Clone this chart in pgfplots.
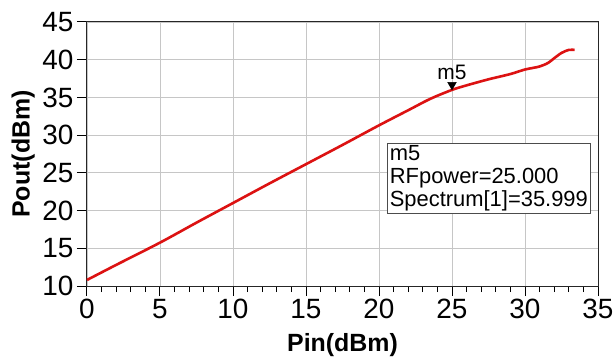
\documentclass[border=0pt]{standalone}
\usepackage{pgfplots}
\pgfplotsset{compat=1.18}
\usepackage{fontspec}
\setmainfont{Liberation Sans}
\definecolor{curvered}{RGB}{220,18,18}
\begin{document}
\begin{tikzpicture}
\begin{axis}[
  scale only axis,
  width=511bp, height=264bp,
  xmin=0, xmax=35, ymin=10, ymax=45,
  xtick={0,5,...,35}, ytick={10,15,...,45},
  minor x tick num=4,
  tick pos=left,
  tick align=outside,
  major tick length=10bp,
  minor tick length=6bp,
  grid=major,
  major grid style={gray!45, line width=0.9bp},
  axis line style={black!85, line width=1bp},
  every tick/.style={black, line width=1bp},
  tick label style={font=\fontsize{28}{30}\selectfont},
  /pgf/number format/assume math mode=true,
  xlabel={\textbf{Pin(dBm)}},
  ylabel={\textbf{Pout(dBm)}},
  label style={font=\fontsize{25}{28}\selectfont},
  xlabel style={at={(axis description cs:0.5,-0.18)}, anchor=north, inner sep=0pt},
  ylabel style={at={(axis description cs:-0.102,0.5)}, anchor=south, inner sep=0pt},
  clip=false,
]
\addplot[curvered, line width=2.6bp, smooth] coordinates {
(0,10.8) (2,12.8) (5,15.75) (7.5,18.4) (10,21.0) (12.5,23.6) (15,26.15)
(17.5,28.7) (20,31.3) (22,33.3) (23.5,34.8) (25,36.0) (26,36.6)
(27.5,37.4) (29,38.1) (30,38.7) (31,39.1) (31.6,39.6) (32,40.2)
(32.5,40.9) (33,41.3) (33.4,41.3)
};
\addplot[only marks, mark=triangle*, mark size=5bp, black,
  mark options={rotate=180, yshift=-5bp}] coordinates {(25,36)}
  node[pos=0, above, yshift=9bp, font=\fontsize{21}{24}\selectfont, inner sep=1bp] {m5};
\node[anchor=north west, draw=black!70, line width=0.8bp, fill=white,
  align=left, inner sep=2.5bp, font=\fontsize{22}{23}\selectfont]
  at (rel axis cs:0.587,0.542) {m5\\RFpower=25.000\\Spectrum[1]=35.999};
\coordinate (bl) at (rel axis cs:0,0);
\coordinate (tr) at (rel axis cs:1,1);
\end{axis}
\pgfresetboundingbox
\path ([xshift=-87bp,yshift=-77bp]bl) rectangle ([xshift=15bp,yshift=22bp]tr);
\end{tikzpicture}
\end{document}
